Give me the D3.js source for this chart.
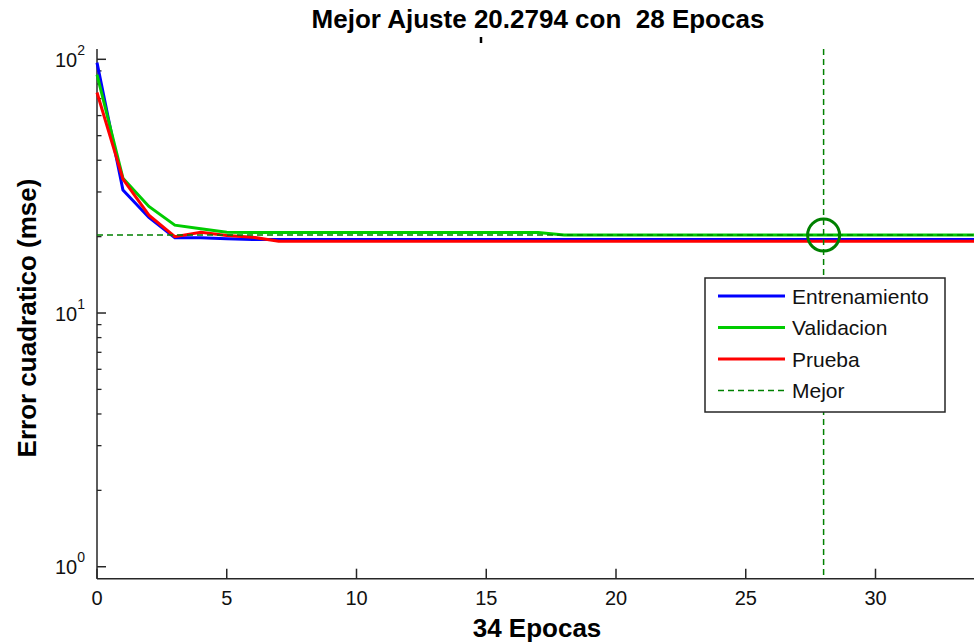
<!DOCTYPE html>
<html>
<head>
<meta charset="utf-8">
<script src="https://cdn.jsdelivr.net/npm/d3@7"></script>
<style>
  html, body { margin: 0; padding: 0; background: #fff; overflow: hidden; }
  svg { display: block; font-family: Arial, "Liberation Sans", sans-serif; }
</style>
</head>
<body>
<svg id="chart" width="974" height="644"></svg>
<script>
// ---- data ----
const epochs = d3.range(0, 35);
const trainValues = [97, 30.5, 23.8, 19.8, 19.8, 19.6, 19.5, 19.5, 19.5, 19.5, 19.5, 19.5, 19.5, 19.5, 19.5, 19.5, 19.5, 19.5, 19.5, 19.5, 19.5, 19.5, 19.5, 19.5, 19.5, 19.5, 19.5, 19.5, 19.5, 19.5, 19.5, 19.5, 19.5, 19.5, 19.5];
const validValues = [87, 34.0, 26.3, 22.2, 21.5, 20.8, 20.75, 20.75, 20.75, 20.75, 20.75, 20.75, 20.75, 20.75, 20.75, 20.75, 20.75, 20.75, 20.3, 20.3, 20.3, 20.3, 20.3, 20.3, 20.3, 20.3, 20.29, 20.28, 20.2794, 20.2794, 20.2794, 20.2794, 20.2794, 20.2794, 20.2794];
const testValues = [74, 33.7, 24.3, 20.0, 20.8, 20.2, 19.9, 19.2, 19.2, 19.2, 19.2, 19.2, 19.2, 19.2, 19.2, 19.2, 19.2, 19.2, 19.2, 19.2, 19.2, 19.2, 19.2, 19.2, 19.2, 19.2, 19.2, 19.2, 19.2, 19.2, 19.2, 19.2, 19.2, 19.2, 19.2];
const bestEpoch = 28;
const bestValue = 20.2794;
const xTickValues = [0, 5, 10, 15, 20, 25, 30];
const yMajorTicks = [1, 10, 100];
const yTickExponents = ["0", "1", "2"];
const legendLabels = ["Entrenamiento", "Validacion", "Prueba", "Mejor"];
const titleText = "Mejor Ajuste 20.2794 con  28 Epocas";
const xLabelText = "34 Epocas";
const yLabelText = "Error cuadratico (mse)";

// ---- layout ----
const svg = d3.select("#chart");
const pLeft = 97, pRight = 979.3, pTop = 49, pBottom = 578.7;
const x = d3.scaleLinear().domain([0, 34]).range([pLeft, pRight]);
const y = d3.scaleLog().domain([0.897, 109.8]).range([pBottom, pTop]);

const axisColor = "#262626";
const colors = ["#0000ff", "#00cc00", "#ff0000"];
const bestColor = "#008000";

// minor ticks
const minors = [];
[1, 10].forEach(d => { for (let k = 2; k <= 9; k++) minors.push(d * k); });

// y axis (ticks inward)
const yAxisG = svg.append("g");
yAxisG.append("line").attr("x1", pLeft).attr("x2", pLeft).attr("y1", pTop).attr("y2", pBottom)
  .attr("stroke", axisColor).attr("stroke-width", 1.5);
yAxisG.selectAll(".ymaj").data(yMajorTicks).enter().append("line")
  .attr("x1", pLeft).attr("x2", pLeft + 9).attr("y1", d => y(d)).attr("y2", d => y(d))
  .attr("stroke", axisColor).attr("stroke-width", 1.5);
yAxisG.selectAll(".ymin").data(minors).enter().append("line")
  .attr("x1", pLeft).attr("x2", pLeft + 4.5).attr("y1", d => y(d)).attr("y2", d => y(d))
  .attr("stroke", axisColor).attr("stroke-width", 1.3);
const yl = yAxisG.selectAll(".ylab").data(yMajorTicks).enter().append("text")
  .attr("x", 85).attr("y", d => y(d) + 7.5)
  .attr("text-anchor", "end").attr("fill", "#111").attr("font-size", 20);
yl.append("tspan").text("10");
yl.append("tspan").attr("font-size", 14).attr("dy", -12).text((d, i) => yTickExponents[i]);

// x axis
const xAxisG = svg.append("g");
xAxisG.append("line").attr("x1", pLeft).attr("x2", 974).attr("y1", pBottom).attr("y2", pBottom)
  .attr("stroke", axisColor).attr("stroke-width", 1.5);
xAxisG.selectAll(".xt").data(xTickValues).enter().append("line")
  .attr("x1", d => x(d)).attr("x2", d => x(d)).attr("y1", pBottom).attr("y2", pBottom - 10)
  .attr("stroke", axisColor).attr("stroke-width", 1.5);
xAxisG.selectAll(".xl").data(xTickValues).enter().append("text")
  .attr("x", d => x(d)).attr("y", 605).attr("text-anchor", "middle")
  .attr("fill", "#111").attr("font-size", 20).text(d => d);

// series
const line = d3.line().x((d, i) => x(epochs[i])).y(d => y(d));
[trainValues, validValues, testValues].forEach((vals, k) => {
  svg.append("path").datum(vals).attr("d", line)
    .attr("fill", "none").attr("stroke", colors[k]).attr("stroke-width", 3)
    .attr("stroke-linejoin", "miter");
});

// best lines
svg.append("line").attr("x1", x(0)).attr("x2", x(34)).attr("y1", y(bestValue)).attr("y2", y(bestValue))
  .attr("stroke", bestColor).attr("stroke-width", 1.5).attr("stroke-dasharray", "6,4");
svg.append("line").attr("x1", x(bestEpoch)).attr("x2", x(bestEpoch)).attr("y1", pTop).attr("y2", pBottom)
  .attr("stroke", bestColor).attr("stroke-width", 1.5).attr("stroke-dasharray", "6,4");
svg.append("circle").attr("cx", x(bestEpoch)).attr("cy", y(bestValue)).attr("r", 16)
  .attr("fill", "none").attr("stroke", bestColor).attr("stroke-width", 3);

// legend
const lg = svg.append("g");
lg.append("rect").attr("x", 705).attr("y", 278).attr("width", 240).attr("height", 134)
  .attr("fill", "#fff").attr("stroke", axisColor).attr("stroke-width", 1.5);
const legendStyles = [
  { c: colors[0], w: 3, dash: null },
  { c: colors[1], w: 3, dash: null },
  { c: colors[2], w: 3, dash: null },
  { c: bestColor, w: 1.5, dash: "6,4" }
];
legendLabels.forEach((lab, i) => {
  const cy = 296 + i * 31.5;
  const ln = lg.append("line").attr("x1", 718).attr("x2", 785).attr("y1", cy).attr("y2", cy)
    .attr("stroke", legendStyles[i].c).attr("stroke-width", legendStyles[i].w);
  if (legendStyles[i].dash) ln.attr("stroke-dasharray", legendStyles[i].dash);
  lg.append("text").attr("x", 792).attr("y", cy + 7.5).attr("font-size", 21)
    .attr("fill", "#111").text(lab);
});

// titles
svg.append("text").attr("x", 538).attr("y", 28).attr("text-anchor", "middle")
  .attr("font-size", 26).attr("font-weight", "bold").style("white-space", "pre")
  .attr("fill", "#000").text(titleText);
svg.append("line").attr("x1", 481).attr("x2", 481).attr("y1", 37).attr("y2", 43)
  .attr("stroke", "#000").attr("stroke-width", 2.5);
svg.append("text").attr("x", 537).attr("y", 637).attr("text-anchor", "middle")
  .attr("font-size", 26).attr("font-weight", "bold").attr("fill", "#000").text(xLabelText);
svg.append("text").attr("transform", "translate(36,318) rotate(-90)").attr("text-anchor", "middle")
  .attr("font-size", 26).attr("font-weight", "bold").attr("fill", "#000").text(yLabelText);
</script>
</body>
</html>
